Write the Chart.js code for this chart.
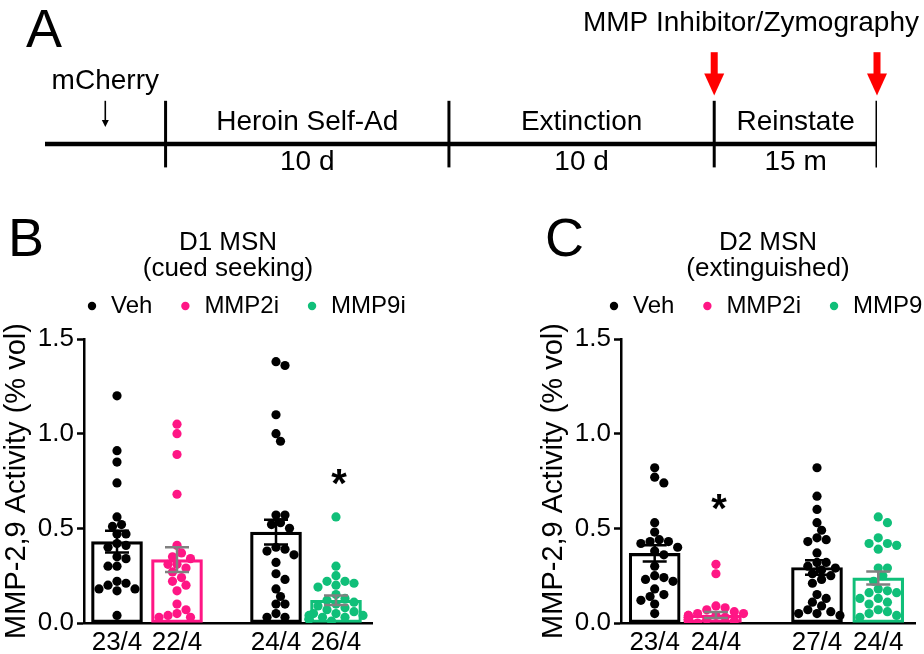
<!DOCTYPE html>
<html>
<head>
<meta charset="utf-8">
<script src="https://cdn.jsdelivr.net/npm/chart.js@4.4.1/dist/chart.umd.min.js"></script>
<style>
  body { margin: 0; background: #fff; }
  #page { position: relative; width: 924px; height: 654px; overflow: hidden; font-family: "Liberation Sans", Arial, sans-serif; }
  .panel { position: absolute; }
  .letter { position: absolute; font-size: 54px; line-height: 1; color: #000; }
</style>
</head>
<body>
<div id="page">
  <div class="panel" style="left:0;top:0;width:924px;height:180px"><canvas id="timeline"></canvas></div>
  <div class="panel" style="left:0;top:170px;width:470px;height:484px"><canvas id="d1Chart"></canvas></div>
  <div class="panel" style="left:537px;top:170px;width:387px;height:484px"><canvas id="d2Chart"></canvas></div>
  <div class="letter" style="left:26px;top:1px">A</div>
  <div class="letter" style="left:8px;top:210px">B</div>
  <div class="letter" style="left:545px;top:210px">C</div>
</div>
<script>
// ---- panel A: timeline ----
var phaseNames = ['Heroin Self-Ad', 'Extinction', 'Reinstate'];
var phaseLengths = ['10 d', '10 d', '15 m'];
var phaseEdges = [1, 3.35, 5.55, 6.9];
var virusLabel = 'mCherry';
var virusAt = 0.5;
var sampleLabel = 'MMP Inhibitor/Zymography';
var sampleEdges = [2, 3];

// ---- panels B/C: groups ----
var groupPos = [1, 2, 3.65, 4.65];
var treatments = ['Veh', 'MMP2i', 'Veh', 'MMP9i'];
var d1Labels = ['23/4', '22/4', '24/4', '26/4'];
var d2Labels = ['23/4', '24/4', '27/4', '24/4'];

// D1 MSN (cued seeking)
var d1Veh1 = [1.20, 0.91, 0.85, 0.74, 0.56, 0.52, 0.51, 0.47, 0.47, 0.42, 0.41, 0.40, 0.35, 0.34, 0.30, 0.30, 0.22, 0.21, 0.20, 0.18, 0.17, 0.18, 0.04];
var d1Mmp2 = [1.05, 1.00, 0.89, 0.68, 0.41, 0.37, 0.35, 0.34, 0.31, 0.31, 0.29, 0.27, 0.24, 0.22, 0.20, 0.17, 0.10, 0.07, 0.05, 0.04, 0.03, 0.03];
var d1Veh2 = [1.38, 1.36, 1.10, 1.00, 0.96, 0.57, 0.57, 0.53, 0.52, 0.50, 0.40, 0.39, 0.38, 0.36, 0.32, 0.26, 0.23, 0.18, 0.14, 0.10, 0.10, 0.05, 0.03, 0.03];
var d1Mmp9 = [0.56, 0.30, 0.25, 0.22, 0.22, 0.21, 0.20, 0.19, 0.15, 0.13, 0.12, 0.11, 0.10, 0.09, 0.08, 0.07, 0.06, 0.05, 0.05, 0.04, 0.04, 0.03, 0.03, 0.02, 0.02, 0.01];
var d1Means = [0.43, 0.335, 0.48, 0.12];
var d1Sems = [0.057, 0.065, 0.065, 0.025];

// D2 MSN (extinguished)
var d2Veh1 = [0.82, 0.77, 0.74, 0.53, 0.48, 0.44, 0.43, 0.43, 0.42, 0.40, 0.38, 0.36, 0.30, 0.25, 0.24, 0.23, 0.22, 0.18, 0.15, 0.14, 0.12, 0.10, 0.05];
var d2Mmp2 = [0.31, 0.26, 0.09, 0.08, 0.07, 0.06, 0.05, 0.05, 0.04, 0.04, 0.04, 0.03, 0.03, 0.03, 0.03, 0.02, 0.02, 0.02, 0.02, 0.01, 0.01, 0.01, 0.01, 0.00];
var d2Veh2 = [0.82, 0.67, 0.60, 0.53, 0.49, 0.45, 0.44, 0.43, 0.37, 0.32, 0.32, 0.30, 0.29, 0.28, 0.26, 0.25, 0.23, 0.21, 0.15, 0.13, 0.11, 0.09, 0.07, 0.06, 0.05, 0.05, 0.04];
var d2Mmp9 = [0.56, 0.53, 0.45, 0.42, 0.42, 0.41, 0.39, 0.29, 0.29, 0.25, 0.22, 0.18, 0.17, 0.16, 0.16, 0.13, 0.13, 0.11, 0.10, 0.07, 0.06, 0.05, 0.04, 0.03];
var d2Means = [0.368, 0.042, 0.293, 0.238];
var d2Sems = [0.043, 0.016, 0.038, 0.034];

var color = {
    Veh: '#000000',
    MMP2i: '#ff1685',
    MMP9i: '#10bf79',
    err: '#808080'
};

var FONT = '"Liberation Sans", Arial, sans-serif';
Chart.defaults.font.family = FONT;
Chart.defaults.color = '#000';

// simple beeswarm: push dots sideways until they stop overlapping
function swarm(values, center) {
    var dotX = 0.15, dotY = 0.049, step = 0.075;
    var placed = [];
    values.slice().sort(function (a, b) { return b - a; }).forEach(function (v) {
        var x = center;
        for (var k = 0; k < 13; k++) {
            x = center + (k % 2 ? 1 : -1) * Math.ceil(k / 2) * step;
            var free = placed.every(function (p) {
                return Math.pow((p.x - x) / dotX, 2) + Math.pow((p.y - v) / dotY, 2) >= 0.8;
            });
            if (free) break;
        }
        placed.push({x: x, y: v});
    });
    return placed;
}

var dotLegend = {
    id: 'dotLegend',
    afterDraw: function (chart, args, opts) {
        var ctx = chart.ctx, area = chart.chartArea;
        var x = area.left + opts.shift, y = area.top - 33;
        var seen = {};
        ctx.save();
        ctx.font = '24px ' + FONT;
        ctx.textBaseline = 'middle';
        chart.data.datasets.forEach(function (ds) {
            if (ds.type !== 'scatter' || seen[ds.label]) return;
            seen[ds.label] = true;
            ctx.fillStyle = ds.pointBackgroundColor;
            ctx.beginPath();
            ctx.arc(x, y, 4.2, 0, 2 * Math.PI);
            ctx.fill();
            ctx.fillStyle = '#000';
            ctx.fillText(ds.label, x + 19, y);
            x += 19 + ctx.measureText(ds.label).width + 33;
        });
        ctx.restore();
    }
};

var errorBars = {
    id: 'errorBars',
    afterDatasetsDraw: function (chart, args, opts) {
        var ctx = chart.ctx, xs = chart.scales.x, ys = chart.scales.y;
        ctx.save();
        ctx.lineWidth = 2.5;
        opts.means.forEach(function (m, i) {
            var x = xs.getPixelForValue(groupPos[i]);
            var top = ys.getPixelForValue(m + opts.sems[i]);
            var bot = ys.getPixelForValue(m - opts.sems[i]);
            ctx.strokeStyle = treatments[i] === 'Veh' ? '#000' : color.err;
            ctx.beginPath();
            ctx.moveTo(x, top); ctx.lineTo(x, bot);
            ctx.moveTo(x - 12, top); ctx.lineTo(x + 12, top);
            ctx.moveTo(x - 12, bot); ctx.lineTo(x + 12, bot);
            ctx.stroke();
        });
        // significance star
        ctx.fillStyle = '#000';
        ctx.font = 'bold 40px ' + FONT;
        ctx.textAlign = 'center';
        ctx.textBaseline = 'middle';
        ctx.fillText('*', xs.getPixelForValue(groupPos[opts.starGroup]) + 3, ys.getPixelForValue(opts.starY) + 9);
        ctx.restore();
    }
};

function makePanel(id, title, labels, groups, means, sems, starGroup, starY, legendShift, padRight) {
    var datasets = [{
        type: 'bar',
        label: 'mean',
        data: groupPos.map(function (x, i) { return {x: x, y: means[i]}; }),
        backgroundColor: 'rgba(255,255,255,0)',
        borderColor: treatments.map(function (t) { return color[t]; }),
        borderWidth: 2.5,
        borderSkipped: false,
        barThickness: 51,
        order: 2
    }];
    groups.forEach(function (vals, i) {
        datasets.push({
            type: 'scatter',
            label: treatments[i],
            data: swarm(vals, groupPos[i]),
            pointRadius: 4.6,
            pointBorderWidth: 0,
            pointBackgroundColor: color[treatments[i]],
            order: 1
        });
    });
    return new Chart(document.getElementById(id), {
        type: 'bar',
        data: {datasets: datasets},
        options: {
            responsive: true,
            maintainAspectRatio: false,
            animation: false,
            events: [],
            layout: {padding: {left: 0, right: padRight, top: 0, bottom: 0}},
            plugins: {
                legend: {display: false},
                tooltip: {enabled: false},
                title: {
                    display: true,
                    text: title,
                    fullSize: false,
                    color: '#000',
                    font: {size: 26, weight: 'normal', lineHeight: 1.0},
                    padding: {top: 60, bottom: 57}
                },
                dotLegend: {shift: legendShift},
                errorBars: {means: means, sems: sems, starGroup: starGroup, starY: starY}
            },
            scales: {
                x: {
                    type: 'linear',
                    min: 0.45,
                    max: 5.25,
                    offset: false,
                    afterBuildTicks: function (s) { s.ticks = groupPos.map(function (v) { return {value: v}; }); },
                    afterFit: function (s) { s.height = 31; },
                    ticks: {
                        callback: function (v, i) { return labels[i]; },
                        font: {size: 26},
                        color: '#000',
                        padding: 4,
                        autoSkip: false,
                        maxRotation: 0
                    },
                    grid: {display: false, drawTicks: false},
                    border: {display: true, color: '#000', width: 2.5}
                },
                y: {
                    min: 0,
                    max: 1.5,
                    afterFit: function (s) { s.width = 84; },
                    ticks: {
                        stepSize: 0.5,
                        callback: function (v) { return v.toFixed(1); },
                        font: {size: 26},
                        color: '#000',
                        padding: 3
                    },
                    grid: {drawOnChartArea: false, tickLength: 7, tickWidth: 2.5, tickColor: '#000'},
                    border: {display: true, color: '#000', width: 2.5},
                    title: {
                        display: true,
                        text: 'MMP-2,9 Activity (% vol)',
                        font: {size: 29},
                        color: '#000',
                        padding: 0
                    }
                }
            }
        },
        plugins: [dotLegend, errorBars]
    });
}

makePanel('d1Chart', ['D1 MSN', '(cued seeking)'], d1Labels,
    [d1Veh1, d1Mmp2, d1Veh2, d1Mmp9], d1Means, d1Sems, 3, 0.77, 8, 98);
makePanel('d2Chart', ['D2 MSN', '(extinguished)'], d2Labels,
    [d2Veh1, d2Mmp2, d2Veh2, d2Mmp9], d2Means, d2Sems, 1, 0.64, -7, 9);

// ---- timeline chart ----
var timelineDecor = {
    id: 'timelineDecor',
    afterDatasetsDraw: function (chart) {
        var ctx = chart.ctx, xs = chart.scales.x, ys = chart.scales.y;
        ctx.save();
        ctx.fillStyle = '#000';
        ctx.font = '28px ' + FONT;
        ctx.textAlign = 'center';
        ctx.textBaseline = 'middle';
        phaseNames.forEach(function (name, i) {
            var mid = xs.getPixelForValue((phaseEdges[i] + phaseEdges[i + 1]) / 2);
            ctx.fillText(name, mid, ys.getPixelForValue(0.6));
            ctx.fillText(phaseLengths[i], mid, ys.getPixelForValue(-0.5));
        });
        // virus label and small arrow
        var vx = xs.getPixelForValue(virusAt);
        ctx.fillText(virusLabel, vx, ys.getPixelForValue(1.75));
        ctx.strokeStyle = '#000';
        ctx.lineWidth = 1.6;
        var a0 = ys.getPixelForValue(1.2), a1 = ys.getPixelForValue(0.47);
        ctx.beginPath(); ctx.moveTo(vx, a0); ctx.lineTo(vx, a1 - 5); ctx.stroke();
        ctx.beginPath(); ctx.moveTo(vx - 3.5, a1 - 7); ctx.lineTo(vx + 3.5, a1 - 7); ctx.lineTo(vx, a1); ctx.closePath(); ctx.fill();
        // red arrows
        ctx.fillStyle = '#ff0000';
        var top = ys.getPixelForValue(2.55), tip = ys.getPixelForValue(1.35);
        sampleEdges.forEach(function (k) {
            var x = xs.getPixelForValue(phaseEdges[k]);
            ctx.fillRect(x - 3.5, top, 7, (tip - 21) - top + 1);
            ctx.beginPath(); ctx.moveTo(x - 10, tip - 22); ctx.lineTo(x + 10, tip - 22); ctx.lineTo(x, tip); ctx.closePath(); ctx.fill();
        });
        ctx.fillStyle = '#000';
        ctx.textAlign = 'right';
        ctx.fillText(sampleLabel, chart.width - 5, ys.getPixelForValue(3.35));
        ctx.restore();
    }
};

var timelineSets = [{
    data: [{x: 0, y: 0}, {x: phaseEdges[phaseEdges.length - 1], y: 0}],
    borderColor: '#000',
    borderWidth: 4.5,
    pointRadius: 0
}];
phaseEdges.forEach(function (e) {
    timelineSets.push({
        data: [{x: e, y: -0.65}, {x: e, y: 1.2}],
        borderColor: '#000',
        borderWidth: 3,
        pointRadius: 0
    });
});

new Chart(document.getElementById('timeline'), {
    type: 'line',
    data: {datasets: timelineSets},
    options: {
        responsive: true,
        maintainAspectRatio: false,
        animation: false,
        events: [],
        layout: {padding: {left: 45, right: 47, top: 0, bottom: 0}},
        plugins: {legend: {display: false}, tooltip: {enabled: false}},
        scales: {
            x: {type: 'linear', min: 0, max: 6.9, display: false},
            y: {type: 'linear', min: -1, max: 4, display: false}
        }
    },
    plugins: [timelineDecor]
});
</script>
</body>
</html>
